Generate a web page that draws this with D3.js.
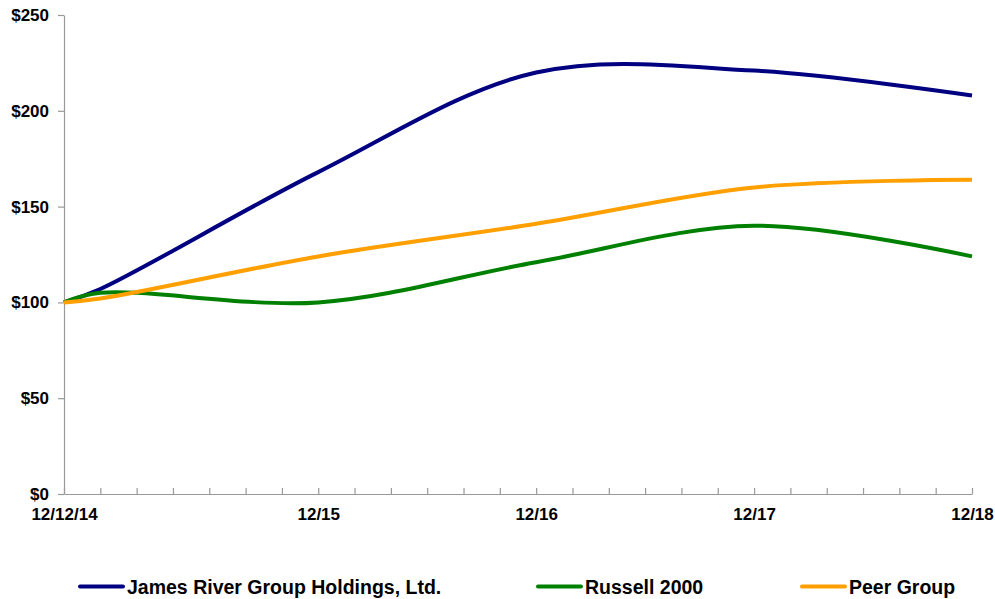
<!DOCTYPE html>
<html>
<head>
<meta charset="utf-8">
<script src="https://d3js.org/d3.v7.min.js"></script>
<style>
  html, body { margin: 0; padding: 0; background: #fff; }
  svg { display: block; }
  text { font-family: "Liberation Sans", Arial, sans-serif; font-weight: bold; fill: #000; }
</style>
</head>
<body>
<script>
// Category positions (index along 25 two-month slots; first slot is 12/12/14 -> 12/14)
const pointIndex = [0, 1, 7, 13, 19, 25];
const pointDates = ["12/12/14", "12/14", "12/15", "12/16", "12/17", "12/18"];
const xTickLabels = ["12/12/14", "12/15", "12/16", "12/17", "12/18"];
const xTickLabelIndex = [0, 7, 13, 19, 25];

const seriesNames = ["James River Group Holdings, Ltd.", "Russell 2000", "Peer Group"];
const jamesRiver = [100, 107, 168, 220, 221, 208];
const russell2000 = [100, 105, 100, 121, 140, 124];
const peerGroup = [100, 102, 124, 141, 160, 164];
const seriesColors = ["#000080", "#008000", "#FFA000"];

const yTicks = [0, 50, 100, 150, 200, 250];

const W = 995, H = 599;
const svg = d3.select("body").append("svg").attr("width", W).attr("height", H);

const x = d3.scaleLinear().domain([0, 25]).range([64, 972]);
const y = d3.scaleLinear().domain([0, 250]).range([494, 15]);

const tickFont = sel => sel.style("font-size", "17px")
  .style("font-family", "Liberation Sans, Arial, sans-serif")
  .style("font-weight", "bold").attr("fill", "#000");

// Y axis
const yAxis = d3.axisLeft(y).tickValues(yTicks).tickSize(6).tickSizeOuter(0)
  .tickFormat(d => "$" + d).tickPadding(9);
const gy = svg.append("g").attr("transform", `translate(${x(0)},0)`).call(yAxis);
gy.select(".domain").attr("stroke", "#999").attr("stroke-width", 1.2);
gy.selectAll(".tick line").attr("stroke", "#999").attr("stroke-width", 1.2);
gy.selectAll(".tick text").call(tickFont);

// X axis: ticks upward inside, labels only at selected positions
const xAxis = d3.axisBottom(x).tickValues(d3.range(0, 26)).tickSize(-6).tickSizeOuter(0)
  .tickFormat(d => { const i = xTickLabelIndex.indexOf(d); return i >= 0 ? xTickLabels[i] : ""; })
  .tickPadding(14);
const gx = svg.append("g").attr("transform", `translate(0,${y(0)})`).call(xAxis);
gx.select(".domain").attr("stroke", "#999").attr("stroke-width", 1.2);
gx.selectAll(".tick line").attr("stroke", "#999").attr("stroke-width", 1.2);
gx.selectAll(".tick text").call(tickFont);

// Lines
const allSeries = [jamesRiver, russell2000, peerGroup];
const line = d3.line().x((d, i) => x(pointIndex[i])).y(d => y(d)).curve(d3.curveCatmullRom.alpha(0.5));
allSeries.forEach((s, k) => {
  svg.append("path").datum(s).attr("d", line)
    .attr("fill", "none").attr("stroke", seriesColors[k]).attr("stroke-width", 4)
    .attr("stroke-linejoin", "round");
});

// Legend
const legendX = [80, 538, 802];
const legendY = 586.5;
seriesNames.forEach((name, k) => {
  svg.append("line").attr("x1", legendX[k]).attr("x2", legendX[k] + 43)
    .attr("y1", legendY).attr("y2", legendY)
    .attr("stroke", seriesColors[k]).attr("stroke-width", 4).attr("stroke-linecap", "round");
  svg.append("text").attr("x", legendX[k] + 47).attr("y", 593.5)
    .style("font-size", "19.5px").text(name);
});
</script>
</body>
</html>
